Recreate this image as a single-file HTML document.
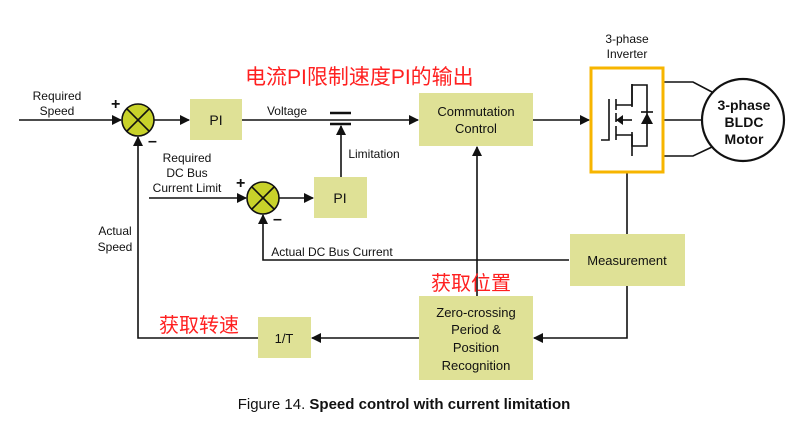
<!DOCTYPE html>
<html><head><meta charset="utf-8"><style>
body{margin:0;background:#fff;width:800px;height:432px;overflow:hidden}
svg text{font-family:"Liberation Sans","Noto Sans CJK SC",sans-serif}
</style></head><body>
<svg width="800" height="432" viewBox="0 0 800 432" xmlns="http://www.w3.org/2000/svg">
<defs>
<marker id="a" markerWidth="10" markerHeight="10" refX="9" refY="5" orient="auto" markerUnits="userSpaceOnUse">
<path d="M0,0 L10,5 L0,10 z" fill="#111"/></marker>
</defs>
<g stroke="#111" stroke-width="1.6" fill="none">
<line x1="19" y1="120" x2="121" y2="120" marker-end="url(#a)"/>
<line x1="154" y1="120" x2="189" y2="120" marker-end="url(#a)"/>
<line x1="242" y1="120" x2="418" y2="120" marker-end="url(#a)"/>
<line x1="533" y1="120" x2="589" y2="120" marker-end="url(#a)"/>
<line x1="330" y1="113" x2="351" y2="113" stroke-width="2.5"/>
<line x1="330" y1="124" x2="351" y2="124" stroke-width="2.5"/>
<line x1="341" y1="177" x2="341" y2="126" marker-end="url(#a)"/>
<line x1="149" y1="198" x2="246" y2="198" marker-end="url(#a)"/>
<line x1="279" y1="198" x2="313" y2="198" marker-end="url(#a)"/>
<polyline points="569,260 263,260 263,215" marker-end="url(#a)"/>
<polyline points="258,338 138,338 138,137" marker-end="url(#a)"/>
<line x1="477" y1="296" x2="477" y2="147" marker-end="url(#a)"/>
<line x1="627" y1="172" x2="627" y2="234"/>
<polyline points="627,286 627,338 534,338" marker-end="url(#a)"/>
<line x1="419" y1="338" x2="312" y2="338" marker-end="url(#a)"/>
<polyline points="663,82 693,82 712,92"/>
<line x1="663" y1="120" x2="702" y2="120"/>
<polyline points="663,156 693,156 712,147"/>
</g>
<g stroke="#111" stroke-width="1.6">
<circle cx="138" cy="120" r="16" fill="#c8d22a"/>
<line x1="127" y1="109" x2="149" y2="131"/><line x1="149" y1="109" x2="127" y2="131"/>
<circle cx="263" cy="198" r="16" fill="#c8d22a"/>
<line x1="252" y1="187" x2="274" y2="209"/><line x1="274" y1="187" x2="252" y2="209"/>
</g>
<g font-size="16" font-weight="bold" fill="#111">
<text x="111" y="109">+</text><text x="148" y="146">–</text>
<text x="236" y="188">+</text><text x="273" y="224">–</text>
</g>
<g fill="#dfe196">
<rect x="190" y="99" width="52" height="41"/>
<rect x="314" y="177" width="53" height="41"/>
<rect x="419" y="93" width="114" height="53"/>
<rect x="570" y="234" width="115" height="52"/>
<rect x="419" y="296" width="114" height="84"/>
<rect x="258" y="317" width="53" height="41"/>
</g>
<rect x="591" y="68" width="72" height="104" fill="#fff" stroke="#f7b500" stroke-width="3"/>
<g stroke="#111" stroke-width="1.6" fill="none">
<polyline points="601,140 609,140 609,99"/>
<line x1="616" y1="99" x2="616" y2="110"/><line x1="616" y1="113" x2="616" y2="122"/><line x1="616" y1="126" x2="616" y2="140"/>
<polyline points="616,105 632,105 632,85 647,85 647,146 632,146 632,135 616,135"/>
<line x1="616" y1="120" x2="632" y2="120"/>
<line x1="632" y1="84" x2="632" y2="107"/><line x1="632" y1="132" x2="632" y2="156"/>
<line x1="641" y1="112" x2="653" y2="112"/>
</g>
<path d="M616,120 L623,115 L623,125 z" fill="#111"/>
<path d="M641,124 L653,124 L647,113 z" fill="#111"/>
<circle cx="743" cy="120" r="41" fill="#fff" stroke="#111" stroke-width="2.2"/>
<g text-anchor="middle" fill="#111" font-size="12">
<text x="57" y="100">Required</text><text x="57" y="115">Speed</text>
<text x="216" y="125" font-size="14">PI</text>
<text x="287" y="115">Voltage</text>
<text x="374" y="158">Limitation</text>
<text x="187" y="162">Required</text><text x="187" y="177">DC Bus</text><text x="187" y="192">Current Limit</text>
<text x="340" y="203" font-size="14">PI</text>
<text x="115" y="235">Actual</text><text x="115" y="251">Speed</text>
<text x="332" y="256">Actual DC Bus Current</text>
<text x="476" y="116" font-size="13">Commutation</text><text x="476" y="133" font-size="13">Control</text>
<text x="627" y="43">3-phase</text><text x="627" y="58">Inverter</text>
<text x="744" y="110" font-size="14" font-weight="bold">3-phase</text>
<text x="744" y="127" font-size="14" font-weight="bold">BLDC</text>
<text x="744" y="144" font-size="14" font-weight="bold">Motor</text>
<text x="627" y="265" font-size="13">Measurement</text>
<text x="476" y="317" font-size="13">Zero-crossing</text><text x="476" y="334" font-size="13">Period &amp;</text>
<text x="476" y="352" font-size="13">Position</text><text x="476" y="370" font-size="13">Recognition</text>
<text x="284" y="343" font-size="13">1/T</text>
</g>
<g fill="#ff2020" font-size="20">
<text x="245" y="84" font-size="21">电流PI限制速度PI的输出</text>
<text x="431" y="290">获取位置</text>
<text x="159" y="332">获取转速</text>
</g>
<text x="404" y="409" text-anchor="middle" font-size="15" fill="#111">Figure 14. <tspan font-weight="bold">Speed control with current limitation</tspan></text>
</svg>
</body></html>
